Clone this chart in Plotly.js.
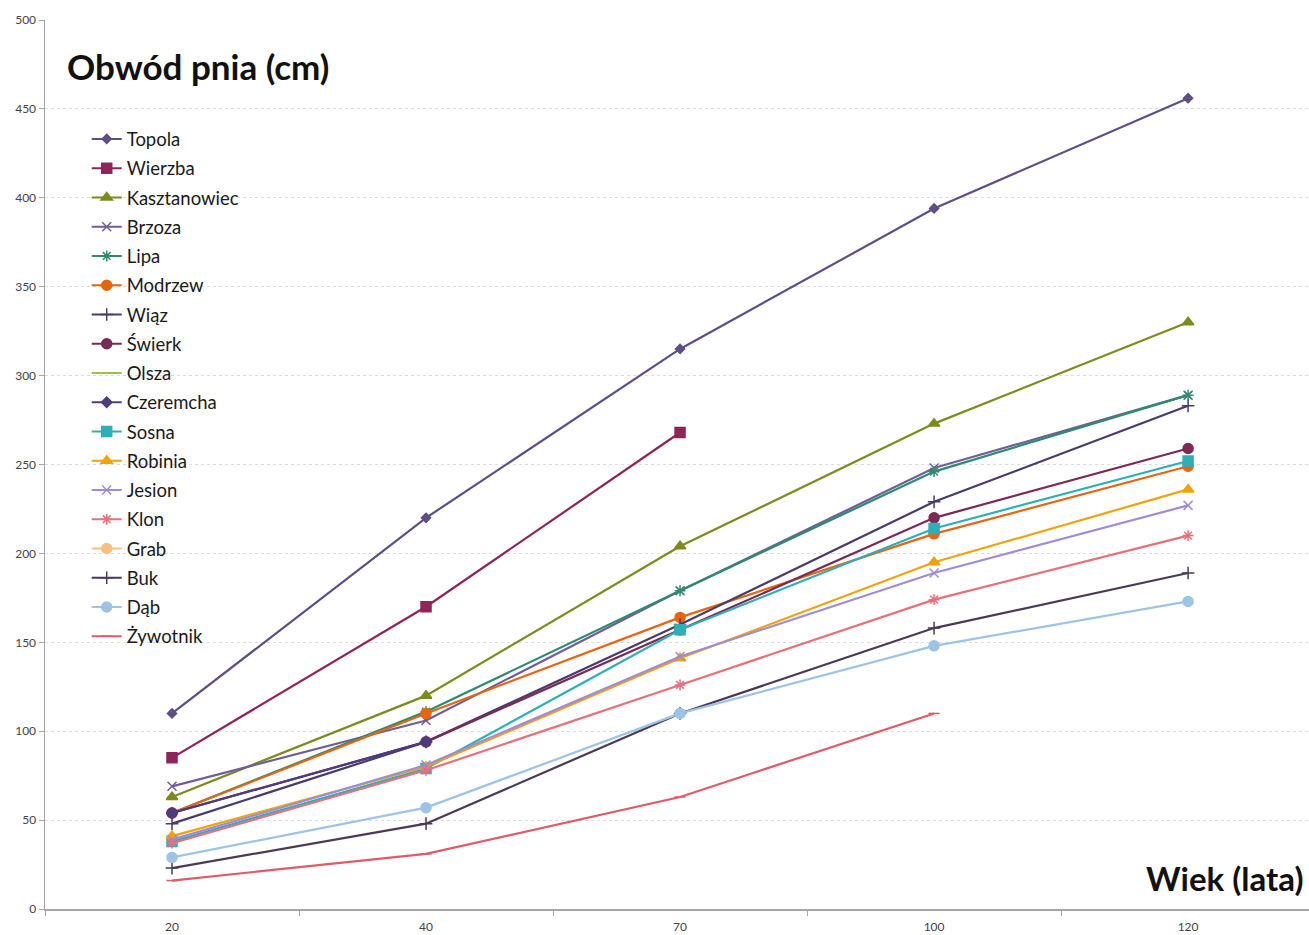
<!DOCTYPE html>
<html>
<head>
<meta charset="utf-8">
<script src="https://cdn.plot.ly/plotly-3.0.1.min.js"></script>
<style>html,body{margin:0;padding:0;background:#fff;}#chart{width:1309px;height:935px;}</style>
</head>
<body>
<div id="chart"></div>
<script>
// Categories (age in years)
const ages = ['20', '40', '70', '100', '120'];

// Series: trunk circumference (cm)
const topola       = [110, 220, 315, 394, 456];
const wierzba      = [85, 170, 268, null, null];
const kasztanowiec = [63, 120, 204, 273, 330];
const brzoza       = [69, 106, 179, 248, 289];
const lipa         = [54, 111, 179, 246, 289];
const modrzew      = [54, 110, 164, 211, 249];
const wiaz         = [48, 94, 160, 229, 283];
const swierk       = [54, 94, 157, 220, 259];
const olsza        = [null, null, null, null, null];
const czeremcha    = [54, 94, null, null, null];
const sosna        = [38, 79, 157, 214, 252];
const robinia      = [41, 80, 141, 195, 236];
const jesion       = [39, 81, 142, 189, 227];
const klon         = [37, 78, 126, 174, 210];
const grab         = [null, null, null, null, null];
const buk          = [23, 48, 110, 158, 189];
const dab          = [29, 57, 110, 148, 173];
const zywotnik     = [16, 31, 63, 110, null];

const seriesNames = ['Topola','Wierzba','Kasztanowiec','Brzoza','Lipa','Modrzew','Wiąz','Świerk','Olsza','Czeremcha','Sosna','Robinia','Jesion','Klon','Grab','Buk','Dąb','Żywotnik'];
const seriesData = [topola, wierzba, kasztanowiec, brzoza, lipa, modrzew, wiaz, swierk, olsza, czeremcha, sosna, robinia, jesion, klon, grab, buk, dab, zywotnik];
const colors = ['#5e4e84','#8e2457','#7d8a1c','#6f5e9a','#2e8b6e','#e8650f','#4a3b6b','#7a2a55','#9bc53d','#4b3c80','#2bb0b8','#f0a30a','#a08bd8','#e8707a','#f8c080','#4a3a55','#9dc3e6','#e05a6a'];
const symbols = ['diamond','square','triangle-up','x-thin-open','asterisk-open','circle','cross-thin-open','circle','line-ew-open','diamond','square','triangle-up','x-thin-open','asterisk-open','circle','cross-thin-open','circle','line-ew-open'];
const sizes = [7,10,10,9,9,10,9,10,8,8,10,10,9,9,10,9,10,8];

const traces = seriesNames.map((n, i) => ({
  type: 'scatter',
  mode: 'lines+markers',
  name: n,
  legendgroup: n,
  x: ages,
  y: seriesData[i],
  line: {color: colors[i], width: 2.2},
  marker: {symbol: symbols[i], size: sizes[i], color: colors[i], line: {color: colors[i], width: 1.5}},
  connectgaps: false
}));

const layout = {
  width: 1309, height: 935,
  margin: {l: 45, r: 0, t: 20, b: 26},
  paper_bgcolor: '#ffffff', plot_bgcolor: '#ffffff',
  font: {family: 'Lato, "Open Sans", sans-serif', color: '#222'},
  title: {
    text: 'Obwód pnia (cm)',
    font: {family: 'Lato, sans-serif', size: 35, color: '#111', weight: 'bold'},
    xref: 'container', yref: 'container',
    x: 67/1309, xanchor: 'left', y: 1 - 68/935, yanchor: 'middle'
  },
  xaxis: {
    type: 'category',
    range: [-0.5, 4.476],
    showline: true, linecolor: '#a6a6a6', linewidth: 1.5,
    ticks: 'outside', tickson: 'boundaries', ticklen: 5, tickcolor: '#a6a6a6',
    ticklabelstandoff: 6,
    showgrid: false, zeroline: false,
    tickfont: {size: 12, color: '#444'}
  },
  yaxis: {
    range: [0, 500], dtick: 50,
    showline: true, linecolor: '#a6a6a6', linewidth: 1.5,
    ticks: 'outside', ticklen: 5, tickcolor: '#a6a6a6',
    showgrid: true, gridcolor: '#dcdcdc', griddash: 'dot', gridwidth: 1,
    zeroline: false,
    tickfont: {size: 12, color: '#444'}
  },
  legend: {
    x: 0.033, xanchor: 'left', y: 0.887, yanchor: 'top',
    traceorder: 'grouped', tracegroupgap: 2.2,
    font: {size: 18.5, color: '#1a1a1a', family: 'Lato, sans-serif'},
    bgcolor: 'rgba(0,0,0,0)', borderwidth: 0
  },
  annotations: [{
    text: 'Wiek (lata)', showarrow: false,
    xref: 'paper', yref: 'paper',
    x: 0.997, xanchor: 'right', y: (909-878)/889, yanchor: 'middle',
    font: {size: 33, color: '#111', family: 'Lato, sans-serif', weight: 'bold'}
  }]
};

Plotly.newPlot('chart', traces, layout, {displayModeBar: false, staticPlot: true});
</script>
</body>
</html>
